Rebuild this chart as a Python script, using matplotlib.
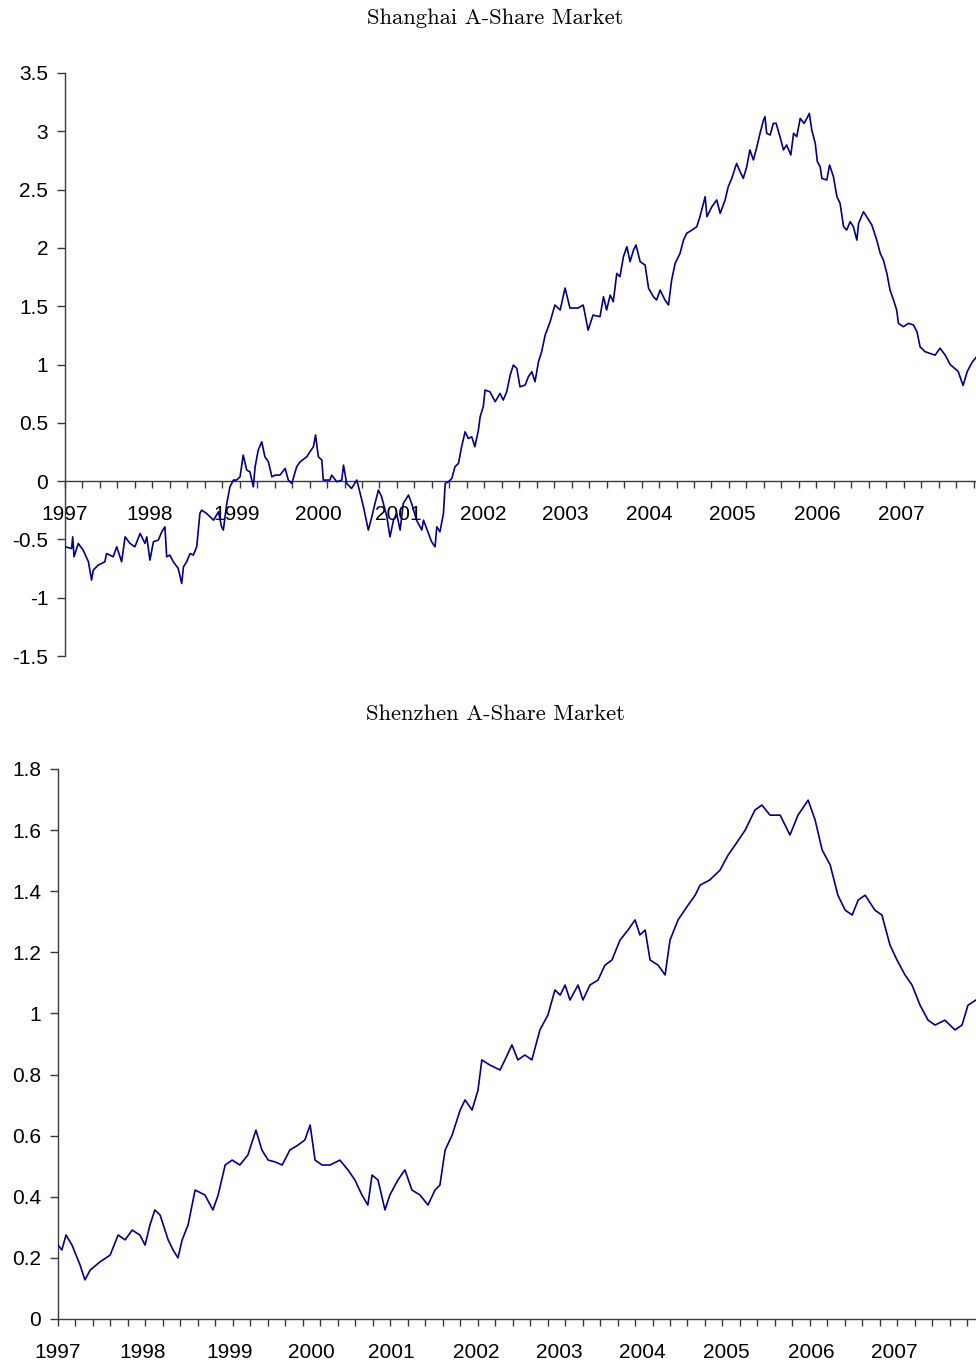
import matplotlib
matplotlib.use("Agg")
import matplotlib.pyplot as plt
from matplotlib.ticker import MultipleLocator, NullFormatter, FuncFormatter

plt.rcParams['font.family'] = ['Liberation Sans', 'DejaVu Sans']

# x = trading-day index since start of 1997
year_labels = ['1997', '1998', '1999', '2000', '2001', '2002', '2003', '2004', '2005', '2006', '2007']
year_days = [0, 243, 490, 724, 954, 1196, 1433, 1672, 1911, 2154, 2392]

sh_day = [0, 19, 22, 26, 38, 52, 67, 76, 81, 95, 114, 119, 138, 148, 162, 172, 186, 200, 215, 229,
          234, 243, 253, 267, 277, 286, 291, 300, 310, 324, 334, 339, 348, 358, 367, 377, 386, 391, 405, 415,
          425, 439, 448, 453, 463, 472, 482, 491, 501, 510, 520, 529, 539, 544, 553, 563, 572, 582, 592, 601,
          615, 630, 639, 649, 663, 673, 692, 701, 711, 717, 725, 735, 739, 758, 763, 778, 792, 797, 806, 820,
          835, 840, 854, 868, 878, 887, 897, 906, 921, 930, 940, 949, 959, 968, 983, 992, 1006, 1021, 1026, 1040,
          1049, 1059, 1064, 1073, 1083, 1088, 1097, 1107, 1116, 1126, 1135, 1145, 1154, 1164, 1173, 1183, 1188, 1197, 1202, 1216,
          1231, 1245, 1254, 1264, 1274, 1283, 1293, 1302, 1317, 1326, 1336, 1345, 1355, 1364, 1374, 1388, 1402, 1417, 1431, 1445,
          1468, 1483, 1497, 1511, 1531, 1541, 1550, 1560, 1569, 1579, 1588, 1598, 1608, 1617, 1627, 1634, 1646, 1660, 1670, 1684,
          1693, 1703, 1717, 1727, 1736, 1746, 1760, 1770, 1779, 1794, 1808, 1817, 1832, 1837, 1851, 1865, 1875, 1889, 1898, 1908,
          1922, 1932, 1941, 1951, 1960, 1970, 1980, 1989, 1999, 2003, 2008, 2018, 2027, 2035, 2046, 2056, 2065, 2077, 2085, 2094,
          2104, 2115, 2123, 2130, 2137, 2147, 2153, 2161, 2166, 2180, 2188, 2199, 2209, 2218, 2228, 2237, 2247, 2256, 2266, 2271,
          2285, 2294, 2309, 2323, 2333, 2342, 2352, 2361, 2371, 2380, 2385, 2399, 2414, 2428, 2438, 2447, 2461, 2490, 2504, 2519,
          2533, 2556, 2570, 2582, 2596, 2607]
sh_val = [-0.563, -0.578, -0.478, -0.649, -0.535, -0.592, -0.692, -0.849, -0.763, -0.721, -0.692, -0.621, -0.649, -0.563, -0.692, -0.478, -0.535, -0.563, -0.449, -0.535,
          -0.478, -0.678, -0.520, -0.506, -0.435, -0.392, -0.649, -0.635, -0.692, -0.749, -0.878, -0.735, -0.692, -0.621, -0.635, -0.563, -0.277, -0.249, -0.277, -0.306,
          -0.335, -0.263, -0.392, -0.420, -0.192, -0.049, 0.009, 0.009, 0.037, 0.223, 0.094, 0.080, -0.049, 0.123, 0.266, 0.337, 0.209, 0.166, 0.037, 0.051,
          0.051, 0.109, 0.009, -0.020, 0.123, 0.166, 0.209, 0.252, 0.295, 0.395, 0.209, 0.180, 0.009, 0.009, 0.051, -0.006, 0.009, 0.137, -0.020, -0.063,
          0.009, -0.049, -0.220, -0.420, -0.306, -0.192, -0.077, -0.134, -0.306, -0.478, -0.335, -0.277, -0.420, -0.192, -0.120, -0.192, -0.335, -0.420, -0.335, -0.449,
          -0.520, -0.563, -0.392, -0.435, -0.277, -0.020, -0.006, 0.023, 0.123, 0.152, 0.295, 0.423, 0.366, 0.380, 0.295, 0.437, 0.552, 0.638, 0.781, 0.766,
          0.681, 0.752, 0.695, 0.766, 0.909, 0.995, 0.967, 0.809, 0.824, 0.895, 0.938, 0.852, 1.024, 1.109, 1.252, 1.364, 1.510, 1.467, 1.656, 1.484,
          1.484, 1.510, 1.295, 1.424, 1.410, 1.581, 1.467, 1.595, 1.538, 1.781, 1.753, 1.924, 2.010, 1.882, 1.982, 2.025, 1.882, 1.853, 1.653, 1.581,
          1.553, 1.638, 1.553, 1.510, 1.724, 1.867, 1.953, 2.067, 2.125, 2.153, 2.182, 2.268, 2.439, 2.268, 2.353, 2.411, 2.296, 2.411, 2.525, 2.596,
          2.725, 2.653, 2.596, 2.697, 2.840, 2.754, 2.868, 2.983, 3.097, 3.126, 2.983, 2.968, 3.068, 3.068, 2.954, 2.840, 2.883, 2.797, 2.983, 2.954,
          3.111, 3.068, 3.111, 3.154, 3.011, 2.897, 2.739, 2.697, 2.596, 2.582, 2.711, 2.611, 2.439, 2.382, 2.182, 2.153, 2.225, 2.182, 2.067, 2.210,
          2.310, 2.268, 2.196, 2.067, 1.953, 1.896, 1.781, 1.638, 1.553, 1.467, 1.353, 1.324, 1.353, 1.339, 1.281, 1.152, 1.11, 1.08, 1.14, 1.08,
          1.00, 0.94, 0.82, 0.94, 1.02, 1.06]

sz_day = [0, 11, 23, 40, 63, 77, 92, 120, 149, 172, 192, 212, 234, 249, 263, 277, 292, 315, 329, 343,
          355, 372, 392, 420, 443, 458, 478, 498, 520, 543, 566, 583, 601, 621, 641, 663, 686, 706, 721, 735,
          755, 778, 806, 829, 849, 869, 886, 898, 915, 935, 949, 972, 992, 1012, 1035, 1058, 1078, 1092, 1107, 1127,
          1150, 1164, 1184, 1201, 1212, 1235, 1264, 1278, 1298, 1315, 1335, 1355, 1378, 1401, 1421, 1436, 1450, 1464, 1487, 1501,
          1521, 1544, 1564, 1584, 1607, 1630, 1650, 1664, 1679, 1693, 1716, 1736, 1750, 1773, 1802, 1822, 1836, 1864, 1893, 1916,
          1936, 1965, 1993, 2013, 2036, 2065, 2093, 2116, 2145, 2165, 2185, 2208, 2230, 2251, 2271, 2288, 2308, 2336, 2356, 2379,
          2399, 2422, 2442, 2465, 2488, 2508, 2536, 2565, 2585, 2602, 2625]
sz_val = [0.242, 0.226, 0.275, 0.242, 0.177, 0.128, 0.160, 0.187, 0.209, 0.275, 0.259, 0.291, 0.275, 0.242, 0.308, 0.357, 0.340, 0.259, 0.226, 0.200,
          0.259, 0.308, 0.422, 0.406, 0.357, 0.406, 0.504, 0.520, 0.504, 0.537, 0.618, 0.553, 0.520, 0.514, 0.504, 0.553, 0.569, 0.586, 0.635, 0.520,
          0.504, 0.504, 0.520, 0.488, 0.455, 0.406, 0.373, 0.471, 0.455, 0.357, 0.406, 0.455, 0.488, 0.422, 0.406, 0.373, 0.422, 0.438, 0.553, 0.602,
          0.684, 0.717, 0.684, 0.749, 0.848, 0.831, 0.815, 0.848, 0.897, 0.848, 0.864, 0.848, 0.946, 0.995, 1.077, 1.060, 1.093, 1.044, 1.093, 1.044,
          1.093, 1.109, 1.158, 1.175, 1.240, 1.273, 1.306, 1.257, 1.273, 1.175, 1.158, 1.126, 1.240, 1.306, 1.355, 1.387, 1.420, 1.437, 1.469, 1.518,
          1.551, 1.600, 1.666, 1.682, 1.649, 1.649, 1.584, 1.649, 1.698, 1.633, 1.535, 1.486, 1.387, 1.338, 1.322, 1.371, 1.387, 1.338, 1.322, 1.224,
          1.175, 1.126, 1.093, 1.027, 0.978, 0.962, 0.978, 0.946, 0.962, 1.027, 1.044]

W, H = 976, 1361
fig = plt.figure(figsize=(W / 100, H / 100), dpi=100)
ax1 = fig.add_axes([65 / W, 1 - 656 / H, 911 / W, 583 / H])
ax2 = fig.add_axes([58 / W, 1 - 1319 / H, 918 / W, 550 / H])

line_color = '#000080'
spine_color = '#3a3a3a'


def style(ax, xmax, ylo, yhi, ystep):
    ax.set_xlim(0, xmax)
    ax.set_ylim(ylo, yhi)
    for s in ('top', 'right'):
        ax.spines[s].set_visible(False)
    ax.spines['bottom'].set_position(('data', 0))
    for s in ('left', 'bottom'):
        ax.spines[s].set_color(spine_color)
        ax.spines[s].set_linewidth(1.0)
    ax.yaxis.set_major_locator(MultipleLocator(ystep))
    ax.yaxis.set_major_formatter(FuncFormatter(lambda v, p: f'{round(v, 2):g}'))
    ax.tick_params(axis='y', direction='out', length=6, width=1, pad=6,
                   labelsize=15, color=spine_color)
    ax.xaxis.remove_overlapping_locs = False
    ax.xaxis.set_major_locator(MultipleLocator(50))
    ax.xaxis.set_major_formatter(NullFormatter())
    ax.tick_params(axis='x', which='major', direction='out', length=5, width=1, color=spine_color)
    ax.set_xticks(year_days, minor=True)
    ax.set_xticklabels(year_labels, minor=True)
    ax.tick_params(axis='x', which='minor', length=0, pad=17, labelsize=15)


style(ax1, 2607, -1.5, 3.5, 0.5)
style(ax2, 2625, 0, 1.8, 0.2)

ax1.plot(sh_day, sh_val, color=line_color, lw=1.2, zorder=3)
ax2.plot(sz_day, sz_val, color=line_color, lw=1.2, zorder=3)

fig.text(495 / W, 1 - 18 / H, 'Shanghai A-Share Market', ha='center', va='center',
         fontfamily='cmr10', fontsize=16.3)
fig.text(495 / W, 1 - 714 / H, 'Shenzhen A-Share Market', ha='center', va='center',
         fontfamily='cmr10', fontsize=16.3)

fig.savefig('out.png', dpi=100)
